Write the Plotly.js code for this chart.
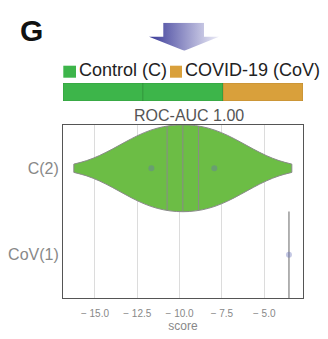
<!DOCTYPE html>
<html>
<head>
<meta charset="utf-8">
<script src="https://cdn.plot.ly/plotly-3.0.1.min.js"></script>
<style>html,body{margin:0;padding:0;background:#fff}#chart{width:328px;height:339px}</style>
</head>
<body>
<div id="chart"></div>
<script>
// ---- data ----
const categories = ['C(2)', 'CoV(1)'];
const controlScores = [-11.67, -7.95];
const covidScores = [-3.54];
const sampleGroups = ['C', 'C', 'CoV'];
const legendLabels = ['Control (C)', 'COVID-19 (CoV)'];
const xTickVals = [-15, -12.5, -10, -7.5, -5];
const xTickText = ['\u2212 15.0', '\u2212 12.5', '\u2212 10.0', '\u2212 7.5', '\u2212 5.0'];
const titleText = 'ROC-AUC 1.00';

// ---- styles ----
const groupColor = { C: '#3db54a', CoV: '#d9a03b' };
const violinFill = '#6cbd45';
const pointColor = 'rgba(100,110,185,0.38)';
const FONT = 'Liberation Sans, Arial, Helvetica, sans-serif';
const bw = 2.29;

// KDE helpers for quartile line lengths
function kde(x, data) {
  let s = 0;
  for (const d of data) s += Math.exp(-((x - d) ** 2) / (2 * bw * bw));
  return s;
}
function quantile(arr, q) {
  const a = arr.slice().sort((p, r) => p - r);
  const pos = (a.length - 1) * q;
  const lo = Math.floor(pos), hi = Math.ceil(pos);
  return a[lo] + (a[hi] - a[lo]) * (pos - lo);
}
const lo = Math.min(...controlScores) - 2 * bw, hi = Math.max(...controlScores) + 2 * bw;
let maxD = 0;
for (let i = 0; i <= 400; i++) { maxD = Math.max(maxD, kde(lo + (hi - lo) * i / 400, controlScores)); }

const traces = [];
// sample strip bar
traces.push({
  type: 'bar', xaxis: 'x2', yaxis: 'y2',
  x: sampleGroups.map((g, i) => i), y: sampleGroups.map(() => 1), base: -0.5, width: 1,
  marker: { color: sampleGroups.map(g => groupColor[g]), line: { color: 'rgba(0,0,0,0.12)', width: 1 } },
  showlegend: false, hoverinfo: 'skip'
});
// violin for control
traces.push({
  type: 'violin', orientation: 'h', x: controlScores, y0: 0, name: categories[0],
  bandwidth: bw, width: 1, scalemode: 'width', spanmode: 'soft',
  fillcolor: violinFill, line: { color: '#8a8a8a', width: 1 },
  points: 'all', pointpos: 0, jitter: 0,
  marker: { color: pointColor, size: 6 },
  box: { visible: false }, meanline: { visible: false }, showlegend: false
});
// quartile lines
[0.25, 0.5, 0.75].forEach(q => {
  const v = quantile(controlScores, q);
  const h = 0.5 * kde(v, controlScores) / maxD;
  traces.push({
    type: 'scatter', mode: 'lines', x: [v, v], y: [-h, h],
    line: { color: '#8a8a8a', width: 1 }, showlegend: false, hoverinfo: 'skip'
  });
});
// single-observation CoV
covidScores.forEach(v => {
  traces.push({
    type: 'scatter', mode: 'lines', x: [v, v], y: [0.5, 1.5],
    line: { color: '#999', width: 1.5 }, showlegend: false, hoverinfo: 'skip'
  });
});
traces.push({
  type: 'scatter', mode: 'markers', x: covidScores, y: covidScores.map(() => 1),
  marker: { color: pointColor, size: 6 }, showlegend: false
});

// arrow image (decoration)
const svg = '<svg xmlns="http://www.w3.org/2000/svg" width="70" height="28" viewBox="0 0 70 28">' +
  '<defs><linearGradient id="g" x1="0" x2="1" y1="0" y2="0">' +
  '<stop offset="0" stop-color="#3a3a98"/><stop offset="1" stop-color="#ececf7"/></linearGradient></defs>' +
  '<path d="M14.3,0 H55 V14 H70 L35.3,28 L0,14 H14.3 Z" fill="url(#g)"/></svg>';
const svgURI = 'data:image/svg+xml;charset=utf-8,' + encodeURIComponent(svg);

const PW = 240, PT = 83, PB = 298, PH = PB - PT, PL = 63;
const px = v => (v - PL) / PW;
const py = v => (PB - v) / PH;

const layout = {
  width: 328, height: 339,
  margin: { l: PL, r: 25, t: PT, b: 41, pad: 0 },
  paper_bgcolor: '#fff', plot_bgcolor: '#fff',
  font: { family: FONT, color: '#888' },
  showlegend: false,
  bargap: 0,
  xaxis: {
    range: [-16.89, -2.71], domain: [0, 1], anchor: 'y',
    tickvals: xTickVals, ticktext: xTickText,
    tickfont: { size: 10, color: '#888', family: FONT },
    showgrid: true, gridcolor: '#dcdcdc', gridwidth: 1, zeroline: false,
    showline: true, mirror: true, linecolor: '#555', linewidth: 1,
    ticks: '', ticklabelstandoff: 6,
    title: { text: 'score', font: { size: 12, color: '#888', family: FONT }, standoff: 2 }
  },
  yaxis: {
    range: [1.5, -0.5], domain: [0, py(125)], anchor: 'x',
    tickvals: [0, 1], ticktext: categories,
    tickfont: { size: 16, color: '#888', family: FONT },
    showgrid: false, zeroline: false,
    showline: true, mirror: true, linecolor: '#555', linewidth: 1, ticks: ''
  },
  xaxis2: { range: [-0.5, 2.5], domain: [0, 1], anchor: 'y2', visible: false, fixedrange: true },
  yaxis2: { range: [-0.5, 0.5], domain: [py(101), 1], anchor: 'x2', visible: false, fixedrange: true },
  shapes: [
    { type: 'rect', xref: 'paper', yref: 'paper', x0: px(63.3), x1: px(76), y0: py(77.7), y1: py(65.7),
      fillcolor: groupColor.C, line: { width: 0 } },
    { type: 'rect', xref: 'paper', yref: 'paper', x0: px(170), x1: px(182), y0: py(77.7), y1: py(65.7),
      fillcolor: groupColor.CoV, line: { width: 0 } }
  ],
  annotations: [
    { xref: 'paper', yref: 'paper', x: px(76.5), y: py(70), xanchor: 'left', yanchor: 'middle',
      text: legendLabels[0], showarrow: false, font: { size: 18, color: '#222', family: FONT } },
    { xref: 'paper', yref: 'paper', x: px(183), y: py(70), xanchor: 'left', yanchor: 'middle',
      text: legendLabels[1], showarrow: false, font: { size: 18, color: '#222', family: FONT } },
    { xref: 'paper', yref: 'paper', x: px(189), y: py(115.5), xanchor: 'center', yanchor: 'middle',
      text: titleText, showarrow: false, font: { size: 16, color: '#555', family: FONT } },
    { xref: 'paper', yref: 'paper', x: px(18), y: py(30.5), xanchor: 'left', yanchor: 'middle',
      text: '<b>G</b>', showarrow: false, font: { size: 30, color: '#111', family: FONT } }
  ],
  images: [
    { source: svgURI, xref: 'paper', yref: 'paper', x: px(149), y: py(22.7), sizex: 70 / PW, sizey: 28 / PH,
      sizing: 'stretch', xanchor: 'left', yanchor: 'top', layer: 'above' }
  ]
};

Plotly.newPlot('chart', traces, layout, { displayModeBar: false, staticPlot: true });
</script>
</body>
</html>
